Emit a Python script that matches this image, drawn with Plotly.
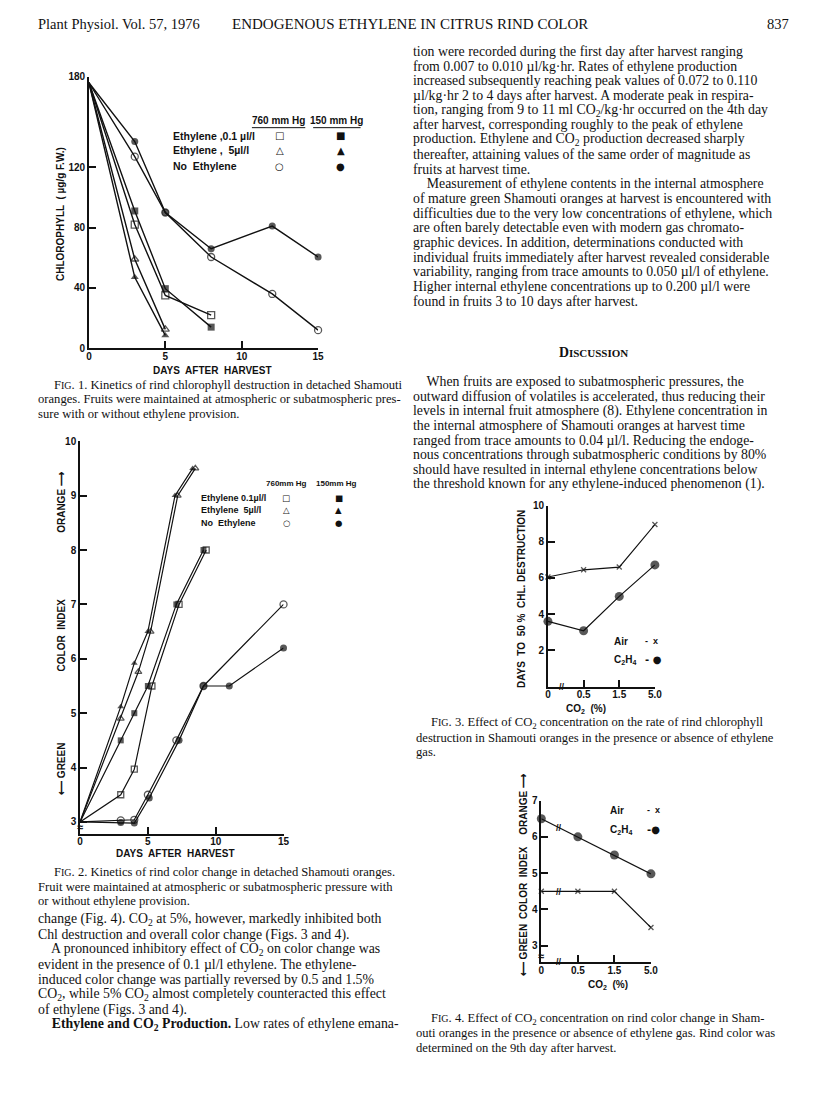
import plotly.graph_objects as go

W, H = 816, 1106

# ---- Fig. 1: chlorophyll (ug/g F.W.) vs days after harvest
f1_sq_open_x = [0, 3, 5, 8]
f1_sq_open_y = [176, 82, 35, 22]
f1_sq_fill_x = [0, 3, 5, 8]
f1_sq_fill_y = [176, 91, 39.5, 14]
f1_tri_open_x = [0, 3, 5]
f1_tri_open_y = [176, 59, 12.5]
f1_tri_fill_x = [0, 3, 5]
f1_tri_fill_y = [176, 47, 8.5]
f1_circ_open_x = [0, 3, 5, 8, 12, 15]
f1_circ_open_y = [176, 127, 90, 60.5, 36, 12]
f1_circ_fill_x = [0, 3, 5, 8, 12, 15]
f1_circ_fill_y = [176, 137, 90, 66, 81, 60.5]

# ---- Fig. 2: color index vs days after harvest
f2_tri_fill_x = [0, 3, 4, 5, 7, 8.3]
f2_tri_fill_y = [3, 5.12, 5.92, 6.5, 9, 9.5]
f2_tri_open_x = [0, 3, 4.3, 5.2, 7.2, 8.5]
f2_tri_open_y = [3, 4.9, 5.76, 6.5, 9, 9.5]
f2_sq_fill_x = [0, 3, 4, 5, 7.1, 9.1]
f2_sq_fill_y = [3, 4.5, 5, 5.5, 7, 8]
f2_sq_open_x = [0, 3, 4, 5.3, 7.3, 9.3]
f2_sq_open_y = [3, 3.5, 3.97, 5.5, 7, 8]
f2_circ_open_x = [0, 3, 4, 5, 7.1, 9.1, 15]
f2_circ_open_y = [3, 3.03, 3.04, 3.5, 4.5, 5.5, 7]
f2_circ_fill_x = [0, 3, 4, 5.1, 7.3, 9.1, 11, 15]
f2_circ_fill_y = [3, 2.99, 2.98, 3.44, 4.5, 5.5, 5.5, 6.2]

# ---- Fig. 3 / Fig. 4: CO2 concentration (categories)
co2_labels = ["0", "0.5", "1.5", "5.0"]
f3_air = [6.05, 6.45, 6.6, 8.95]
f3_c2h4 = [3.6, 3.08, 4.98, 6.72]
f4_air = [4.5, 4.5, 4.5, 3.5]
f4_c2h4 = [6.5, 6.0, 5.5, 4.98]

BLACK = "#111"
SANS = "Liberation Sans"
SERIF = "Liberation Serif"


def px(x):
    return x / W


def py(y):
    return 1 - y / H


fig = go.Figure()


def series(x, y, sym, ax, size=7, lw=1.4, first_marker=False):
    sizes = [size] * len(x)
    if not first_marker:
        sizes[0] = 0
    is_open = "open" in sym
    fig.add_trace(go.Scatter(
        x=x, y=y, xaxis=ax[0], yaxis=ax[1], mode="lines+markers",
        line=dict(color=BLACK, width=lw),
        marker=dict(symbol=sym, size=sizes, color=BLACK,
                    line=dict(color=BLACK, width=1.3 if is_open else 0)),
        cliponaxis=False, showlegend=False, hoverinfo="skip"))


A1, A2, A3, A4 = ("x", "y"), ("x2", "y2"), ("x3", "y3"), ("x4", "y4")

series(f1_sq_open_x, f1_sq_open_y, "square-open", A1)
series(f1_sq_fill_x, f1_sq_fill_y, "square", A1)
series(f1_tri_open_x, f1_tri_open_y, "triangle-up-open", A1)
series(f1_tri_fill_x, f1_tri_fill_y, "triangle-up", A1)
series(f1_circ_open_x, f1_circ_open_y, "circle-open", A1)
series(f1_circ_fill_x, f1_circ_fill_y, "circle", A1)

series(f2_tri_fill_x, f2_tri_fill_y, "triangle-up", A2, size=6, lw=1.2)
series(f2_tri_open_x, f2_tri_open_y, "triangle-up-open", A2, size=6, lw=1.2)
series(f2_sq_fill_x, f2_sq_fill_y, "square", A2, size=6, lw=1.2)
series(f2_sq_open_x, f2_sq_open_y, "square-open", A2, size=6, lw=1.2)
series(f2_circ_fill_x, f2_circ_fill_y, "circle", A2, size=7, lw=1.2)
series(f2_circ_open_x, f2_circ_open_y, "circle-open", A2, size=7, lw=1.2)

series(co2_labels, f3_air, "x-thin-open", A3, size=5, lw=1.2, first_marker=True)
series(co2_labels, f3_c2h4, "circle", A3, size=9, lw=1.2, first_marker=True)
series(co2_labels, f4_air, "x-thin-open", A4, size=5, lw=1.2, first_marker=True)
series(co2_labels, f4_c2h4, "circle", A4, size=9, lw=1.2, first_marker=True)

tickfont = dict(family=SANS, size=10, color=BLACK, weight=700)


def axis(domain, anchor, rng=None, tickvals=None, **kw):
    d = dict(domain=domain, anchor=anchor, showline=True, linecolor=BLACK, linewidth=1.6,
             ticks="inside", ticklen=7, tickwidth=1.5, tickcolor=BLACK, showgrid=False,
             zeroline=False, tickfont=tickfont, fixedrange=True)
    if rng is not None:
        d["range"] = rng
    if tickvals is not None:
        d["tickvals"] = tickvals
    d.update(kw)
    return d


fig.update_layout(
    width=W, height=H, margin=dict(l=0, r=0, t=0, b=0),
    paper_bgcolor="white", plot_bgcolor="white", showlegend=False,
    xaxis=axis([px(87), px(319)], "y", [0, 15], [0, 5, 10, 15], ticklabelstandoff=-2),
    yaxis=axis([py(346), py(71.5)], "x", [0, 180], [0, 40, 80, 120, 180]),
    xaxis2=axis([px(78), px(284)], "y2", [0, 15], [0, 5, 10, 15], ticklabelstandoff=-3),
    yaxis2=axis([py(837), py(440)], "x2", [2.78, 10], [3, 4, 5, 6, 7, 8, 9, 10]),
    xaxis3=axis([px(551.7), px(660)], "y3", [0, 3], type="category", ticklabelstandoff=-2),
    yaxis3=axis([py(688), py(505)], "x3", [0, 10], [2, 4, 6, 8, 10]),
    xaxis4=axis([px(545), px(656)], "y4", [0, 3], type="category", ticklabelstandoff=-2),
    yaxis4=axis([py(966.7), py(803.3)], "x4", [2.545, 7], [3, 4, 5, 6, 7]),
)

ann = []


def txt(x, y, s, size=13.8, family=SERIF, xanchor="left", angle=0, bold=False, color=BLACK):
    ann.append(dict(x=px(x), y=py(y), xref="paper", yref="paper", text=s, showarrow=False,
                    xanchor=xanchor, yanchor="middle", textangle=angle,
                    font=dict(family=family, size=size, color=color, weight=700 if bold else 400)))


def lab(x, y, s, size=10, xanchor="center", angle=0, family=SANS):
    txt(x, y, s, size=size, family=family, xanchor=xanchor, angle=angle, bold=True)


# header
txt(33, 18, "Plant Physiol. Vol. 57, 1976", size=14.5)
txt(230, 18, "ENDOGENOUS ETHYLENE IN CITRUS RIND COLOR", size=15)
txt(798, 18, "837", size=14.5, xanchor="right")

# right column text
rc1 = [
    "tion were recorded during the first day after harvest ranging",
    "from 0.007 to 0.010 \u00b5l/kg\u00b7hr. Rates of ethylene production",
    "increased subsequently reaching peak values of 0.072 to 0.110",
    "\u00b5l/kg\u00b7hr 2 to 4 days after harvest. A moderate peak in respira-",
    "tion, ranging from 9 to 11 ml CO<sub>2</sub>/kg\u00b7hr occurred on the 4th day",
    "after harvest, corresponding roughly to the peak of ethylene",
    "production. Ethylene and CO<sub>2</sub> production decreased sharply",
    "thereafter, attaining values of the same order of magnitude as",
    "fruits at harvest time.",
    "    Measurement of ethylene contents in the internal atmosphere",
    "of mature green Shamouti oranges at harvest is encountered with",
    "difficulties due to the very low concentrations of ethylene, which",
    "are often barely detectable even with modern gas chromato-",
    "graphic devices. In addition, determinations conducted with",
    "individual fruits immediately after harvest revealed considerable",
    "variability, ranging from trace amounts to 0.050 \u00b5l/l of ethylene.",
    "Higher internal ethylene concentrations up to 0.200 \u00b5l/l were",
    "found in fruits 3 to 10 days after harvest.",
]
for i, s in enumerate(rc1):
    txt(413, 46 + i * 14.85, s)

txt(598, 350, "D<span style='font-size:11px'>ISCUSSION</span>", xanchor="center", bold=True)

rc2 = [
    "    When fruits are exposed to subatmospheric pressures, the",
    "outward diffusion of volatiles is accelerated, thus reducing their",
    "levels in internal fruit atmosphere (8). Ethylene concentration in",
    "the internal atmosphere of Shamouti oranges at harvest time",
    "ranged from trace amounts to 0.04 \u00b5l/l. Reducing the endoge-",
    "nous concentrations through subatmospheric conditions by 80%",
    "should have resulted in internal ethylene concentrations below",
    "the threshold known for any ethylene-induced phenomenon (1).",
]
for i, s in enumerate(rc2):
    txt(413, 380 + i * 14.75, s)

lc = [
    "change (Fig. 4). CO<sub>2</sub> at 5%, however, markedly inhibited both",
    "Chl destruction and overall color change (Figs. 3 and 4).",
    "    A pronounced inhibitory effect of CO<sub>2</sub> on color change was",
    "evident in the presence of 0.1 \u00b5l/l ethylene. The ethylene-",
    "induced color change was partially reversed by 0.5 and 1.5%",
    "CO<sub>2</sub>, while 5% CO<sub>2</sub> almost completely counteracted this effect",
    "of ethylene (Figs. 3 and 4).",
    "    <b>Ethylene and CO<sub>2</sub> Production.</b> Low rates of ethylene emana-",
]
for i, s in enumerate(lc):
    txt(33, 924 + i * 15.1, s)

FIG = "F<span style='font-size:10px'>IG</span>."
cap1 = [(50, FIG + " 1. Kinetics of rind chlorophyll destruction in detached Shamouti"),
        (33, "oranges. Fruits were maintained at atmospheric or subatmospheric pres-"),
        (33, "sure with or without ethylene provision.")]
cap2 = [(50, FIG + " 2. Kinetics of rind color change in detached Shamouti oranges."),
        (33, "Fruit were maintained at atmospheric or subatmospheric pressure with"),
        (33, "or without ethylene provision.")]
cap3 = [(431, FIG + " 3. Effect of CO<sub>2</sub> concentration on the rate of rind chlorophyll"),
        (416, "destruction in Shamouti oranges in the presence or absence of ethylene"),
        (416, "gas.")]
cap4 = [(431, FIG + " 4. Effect of CO<sub>2</sub> concentration on rind color change in Sham-"),
        (416, "outi oranges in the presence or absence of ethylene gas. Rind color was"),
        (416, "determined on the 9th day after harvest.")]
for cap, y0 in [(cap1, 383), (cap2, 876), (cap3, 725), (cap4, 1024)]:
    for i, (x0, s) in enumerate(cap):
        txt(x0, y0 + i * 14.6, s, size=12.6)

SYM = "DejaVu Sans"

# Fig. 1 labels and key
lab(58, 210, "CHLOROPHYLL  ( \u00b5g/g F.W.)", angle=-90)
lab(212, 368, "DAYS  AFTER  HARVEST")
lab(279, 116, "760 mm Hg", size=10)
lab(338, 116, "150 mm Hg", size=10)
for x0, x1 in [(252, 306), (314, 362)]:
    fig.add_shape(type="line", xref="paper", yref="paper", x0=px(x0), x1=px(x1),
                  y0=py(123), y1=py(123), line=dict(color=BLACK, width=1))
for y0, s, so, sf in [(131, "Ethylene ,0.1 \u00b5l/l", "\u25a1", "\u25a0"),
                      (146, "Ethylene ,  5\u00b5l/l", "\u25b3", "\u25b2"),
                      (162, "No  Ethylene", "\u25cb", "\u25cf")]:
    lab(170, y0, s, size=10.5, xanchor="left")
    lab(280, y0, so, size=10, family=SYM)
    lab(342, y0, sf, size=10, family=SYM)

# Fig. 2 labels and key
lab(59, 501, "ORANGE \u27f6", angle=-90)
lab(59, 636, "COLOR  INDEX", angle=-90)
lab(59, 771, "\u27f5 GREEN", angle=-90)
lab(175, 857, "DAYS  AFTER  HARVEST")
lab(287, 483, "760mm Hg", size=8)
lab(338, 483, "150mm Hg", size=8)
for y0, s, so, sf in [(497, "Ethylene 0.1\u00b5l/l", "\u25a1", "\u25a0"),
                      (510, "Ethylene  5\u00b5l/l", "\u25b3", "\u25b2"),
                      (523, "No  Ethylene", "\u25cb", "\u25cf")]:
    lab(198, y0, s, size=9, xanchor="left")
    lab(287, y0, so, size=8.5, family=SYM)
    lab(340, y0, sf, size=8.5, family=SYM)
lab(78, 830, "\u2248", size=11)

# Fig. 3 labels and key
lab(525, 600, "DAYS  TO  50 %  CHL. DESTRUCTION", angle=-90)
lab(590, 711, "CO<sub>2</sub>  (%)")
lab(617, 642, "Air", size=10, xanchor="left")
lab(648, 642, "-  x", size=9, xanchor="left")
lab(617, 661, "C<sub>2</sub>H<sub>4</sub>", size=10, xanchor="left")
lab(648, 661, "- \u25cf", size=10, xanchor="left", family=SYM)
lab(566, 688, "//", size=9)

# Fig. 4 labels and key
lab(527, 807, "ORANGE \u27f6", angle=-90)
lab(527, 886, "COLOR  INDEX", angle=-90)
lab(527, 955, "\u27f5 GREEN", angle=-90)
lab(612, 990, "CO<sub>2</sub>  (%)")
lab(613, 813, "Air", size=10, xanchor="left")
lab(650, 813, "-  x", size=9, xanchor="left")
lab(613, 833, "C<sub>2</sub>H<sub>4</sub>", size=10, xanchor="left")
lab(650, 833, "-\u25cf", size=10, xanchor="left", family=SYM)
lab(563, 966, "//", size=9)
lab(545, 960, "\u2248", size=11)
# axis-break marks drawn across the lines
lab(563, 831, "//", size=9)
lab(563, 896, "//", size=9)

fig.update_layout(annotations=ann)

fig.write_html("out.html", config={"displayModeBar": False},
               post_script="document.body.style.margin='0';document.body.style.overflow='hidden';")
